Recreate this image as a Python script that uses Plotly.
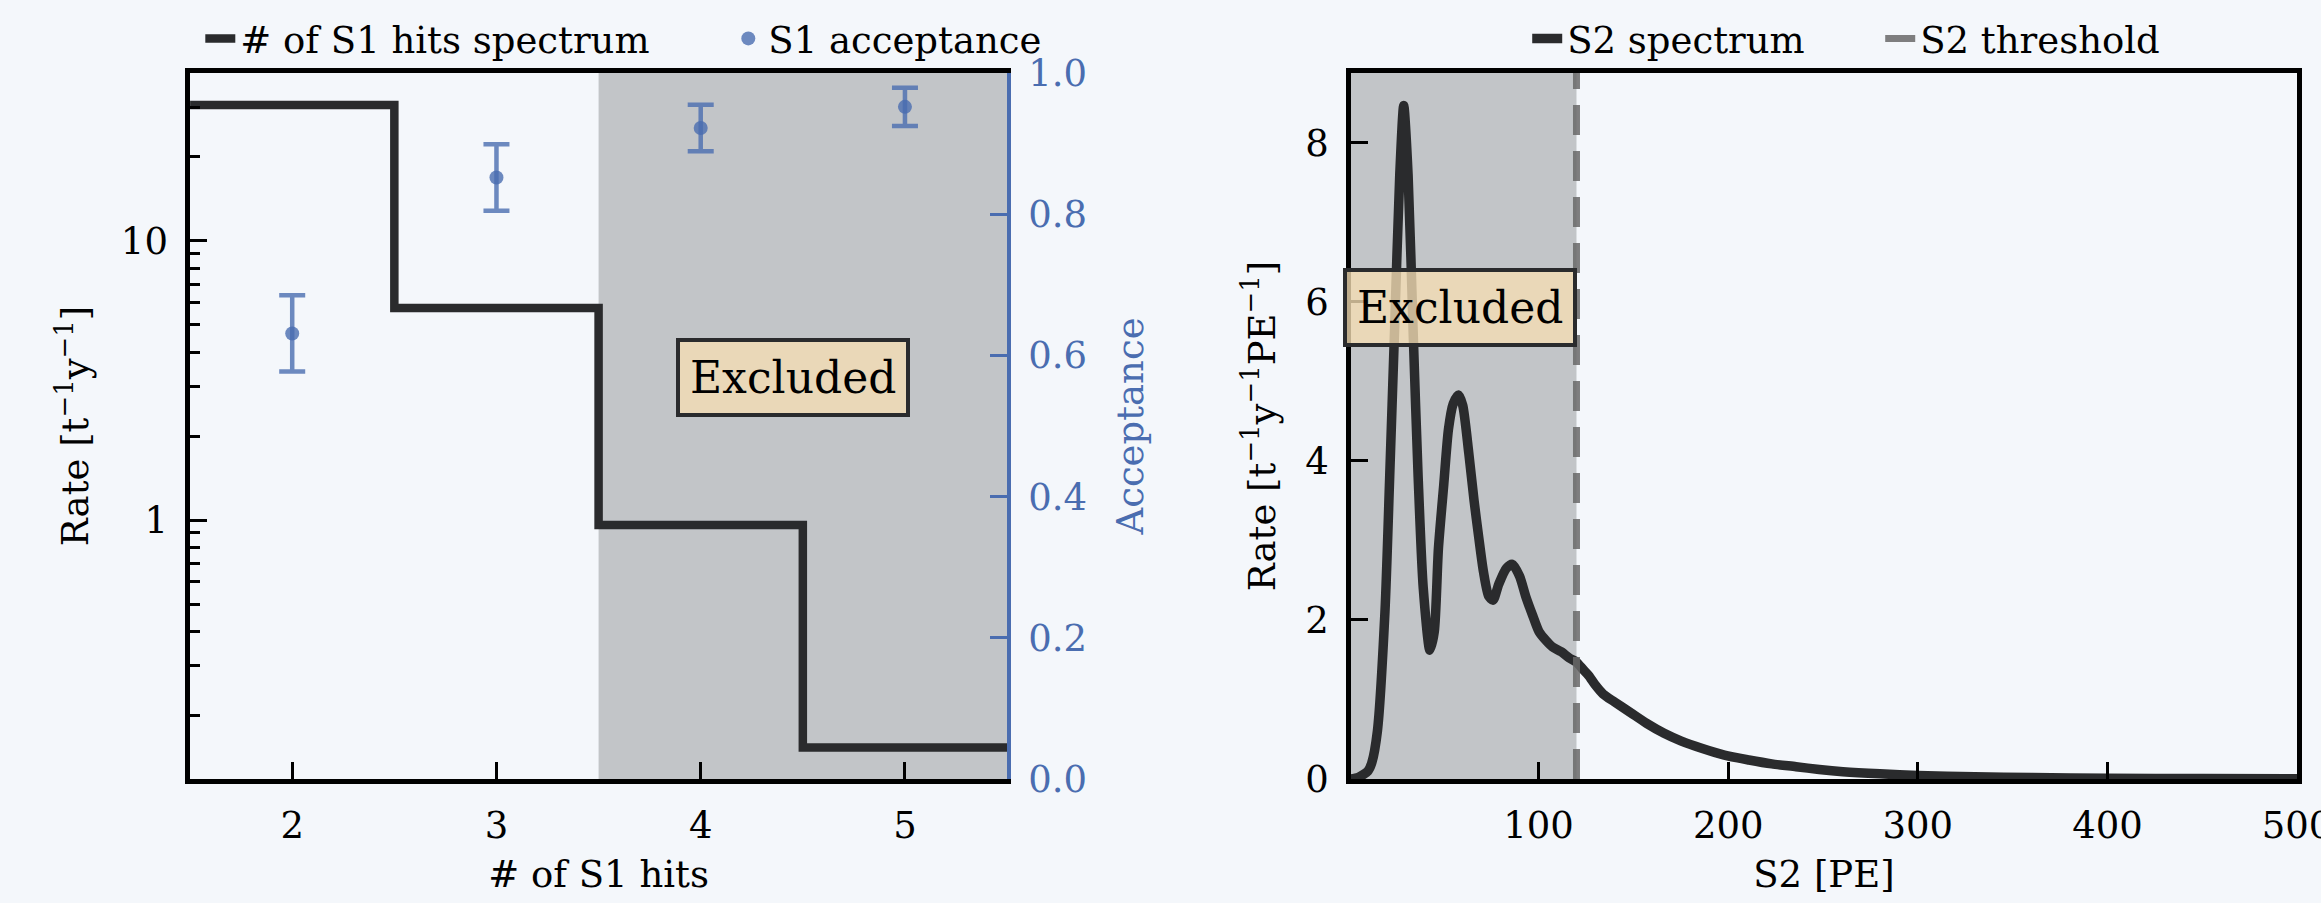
import math
import plotly.graph_objects as go

# ---------------- data ----------------
s1_edges = [1.5, 2.5, 3.5, 4.5, 5.5]
s1_rate = [30.7, 5.75, 0.96, 0.153]
s1_hits = [2, 3, 4, 5]
s1_acc = [0.631, 0.852, 0.922, 0.952]
s1_acc_err = [0.054, 0.047, 0.033, 0.027]
s1_cut = 3.5

s2_pe = [1, 5, 10, 12, 15, 19, 21.5, 24, 26.8, 28.9, 31.2, 33.9, 36.5, 39.2, 42.7,
         45, 47.2, 50, 52.5, 55, 57.8, 60, 63.2, 66, 68.4, 71, 73.7, 76, 79, 83,
         86.2, 90, 93.2, 97, 100.3, 104, 107.4, 112, 116.3, 120, 123.4, 126.5, 130,
         134, 140, 148.8, 157, 166.2, 175, 186, 198, 210.9, 223, 235.8, 248, 260.5,
         280, 300, 330, 360, 400, 450, 500]
s2_rate = [0.0, 0.02, 0.1, 0.2, 0.6, 2.1, 3.8, 5.6, 7.6, 8.47, 7.6, 5.6, 3.8, 2.4, 1.62,
           1.85, 2.9, 3.7, 4.4, 4.72, 4.83, 4.7, 4.1, 3.5, 3.05, 2.6, 2.3, 2.25, 2.45, 2.65,
           2.7, 2.55, 2.3, 2.05, 1.85, 1.74, 1.66, 1.6, 1.52, 1.47, 1.38, 1.3, 1.18,
           1.07, 0.97, 0.83, 0.7, 0.575, 0.48, 0.386, 0.3, 0.239, 0.19, 0.155, 0.12, 0.092,
           0.065, 0.045, 0.028, 0.018, 0.01, 0.005, 0.003]
s2_threshold = 120

s1_xticks = [2, 3, 4, 5]
s2_xticks = [100, 200, 300, 400, 500]
s2_yticks = [0, 2, 4, 6, 8]

# ---------------- style ----------------
BG = "#f4f7fb"
DARK = "#2a2b2d"
BLUE = "#4a6db0"
BLUE_A = "rgba(74,109,176,0.8)"
GRAY = "#c2c5c8"
FONT = "DejaVu Serif"
FS = 37

fig = go.Figure()

fig.add_trace(go.Scatter(
    x=s1_edges, y=s1_rate + [s1_rate[-1]], mode="lines",
    line=dict(shape="hv", color=DARK, width=8.5),
    name="# of S1 hits spectrum", xaxis="x", yaxis="y", legend="legend"))

fig.add_trace(go.Scatter(
    x=s1_hits, y=s1_acc, mode="markers",
    marker=dict(color=BLUE_A, size=14),
    error_y=dict(type="data", array=s1_acc_err, color=BLUE_A, thickness=4.5, width=13),
    name="S1 acceptance", xaxis="x", yaxis="y2", legend="legend"))

fig.add_trace(go.Scatter(
    x=s2_pe, y=s2_rate, mode="lines",
    line=dict(color=DARK, width=9.5, shape="spline", smoothing=0.7),
    name="S2 spectrum", xaxis="x2", yaxis="y3", legend="legend2"))

# shaded exclusion regions
fig.add_shape(type="rect", xref="x", yref="y domain", x0=s1_cut, x1=s1_edges[-1],
              y0=0, y1=1, fillcolor=GRAY, line=dict(width=0), layer="below")
fig.add_shape(type="rect", xref="x2", yref="y3 domain", x0=s2_pe[0], x1=s2_threshold,
              y0=0, y1=1, fillcolor=GRAY, line=dict(width=0), layer="below")
# threshold line
fig.add_shape(type="line", xref="x2", yref="y3 domain", x0=s2_threshold, x1=s2_threshold,
              y0=0, y1=1, line=dict(color="rgba(105,105,105,0.85)", width=7, dash="30px,16px"),
              layer="above", showlegend=True, legend="legend2", name="S2 threshold")

box = dict(font=dict(family=FONT, size=44, color="black"),
           bgcolor="rgba(245,222,179,0.78)", bordercolor=DARK, borderwidth=4,
           borderpad=10, showarrow=False)
fig.add_annotation(text="Excluded", xref="x", yref="y2", x=4.45, y=0.569, **box)
fig.add_annotation(text="Excluded", xref="x2", yref="y3", x=58.7, y=5.93, **box)

tick = dict(ticks="inside", ticklen=17, tickwidth=3, tickcolor="black",
            showgrid=False, zeroline=False, showline=True, linecolor="black",
            linewidth=4.5, tickfont=dict(family=FONT, size=FS, color="black"),
            ticklabelstandoff=10, automargin=False, ticklabeloverflow="allow")

fig.update_layout(
    width=2321, height=903,
    margin=dict(l=0, r=0, t=0, b=0),
    paper_bgcolor=BG, plot_bgcolor=BG,
    font=dict(family=FONT, size=FS, color="black"),
    showlegend=True,
    xaxis=dict(domain=[0.0819, 0.4339], range=[s1_edges[0], s1_edges[-1]],
               tickvals=s1_xticks, mirror=True, anchor="y",
               title=dict(text="# of S1 hits", font=dict(family=FONT, size=FS), standoff=16),
               **tick),
    yaxis=dict(domain=[0.1373, 0.9192], type="log",
               range=[math.log10(0.118), math.log10(40)],
               tickvals=[1, 10], ticktext=["1", "10"], anchor="x",
               minor=dict(tickvals=[0.2, 0.3, 0.4, 0.5, 0.6, 0.7, 0.8, 0.9,
                                    2, 3, 4, 5, 6, 7, 8, 9, 20, 30],
                          ticks="inside", ticklen=10, tickwidth=2.5,
                          tickcolor="black", showgrid=False),
               title=dict(text="Rate [t<sup>−1</sup>y<sup>−1</sup>]",
                          font=dict(family=FONT, size=FS), standoff=22),
               **tick),
    yaxis2=dict(overlaying="y", side="right", anchor="x", range=[0, 1],
                dtick=0.2, tickformat=".1f", ticks="inside", ticklen=17, tickwidth=3,
                tickcolor=BLUE, showgrid=False, zeroline=False, showline=True,
                linecolor=BLUE, linewidth=3.5, ticklabelstandoff=10, automargin=False,
                ticklabeloverflow="allow",
                tickfont=dict(family=FONT, size=FS, color=BLUE),
                title=dict(text="Acceptance", font=dict(family=FONT, size=FS, color=BLUE),
                           standoff=32)),
    xaxis2=dict(domain=[0.582, 0.9897], range=[s2_pe[0], 500], tickvals=s2_xticks,
                mirror=True, anchor="y3",
                title=dict(text="S2 [PE]", font=dict(family=FONT, size=FS), standoff=16),
                **tick),
    yaxis3=dict(domain=[0.1373, 0.9192], range=[0, 8.88], tickvals=s2_yticks,
                mirror=True, anchor="x2",
                title=dict(text="Rate [t<sup>−1</sup>y<sup>−1</sup>PE<sup>−1</sup>]",
                           font=dict(family=FONT, size=FS), standoff=20),
                **tick),
    legend=dict(orientation="h", x=0.0863, xanchor="left", y=0.957, yanchor="middle",
                entrywidth=483, bgcolor="rgba(0,0,0,0)", font=dict(family=FONT, size=FS)),
    legend2=dict(orientation="h", x=0.658, xanchor="left", y=0.957, yanchor="middle",
                 entrywidth=308, bgcolor="rgba(0,0,0,0)", font=dict(family=FONT, size=FS)),
)

fig.write_html("out.html")
